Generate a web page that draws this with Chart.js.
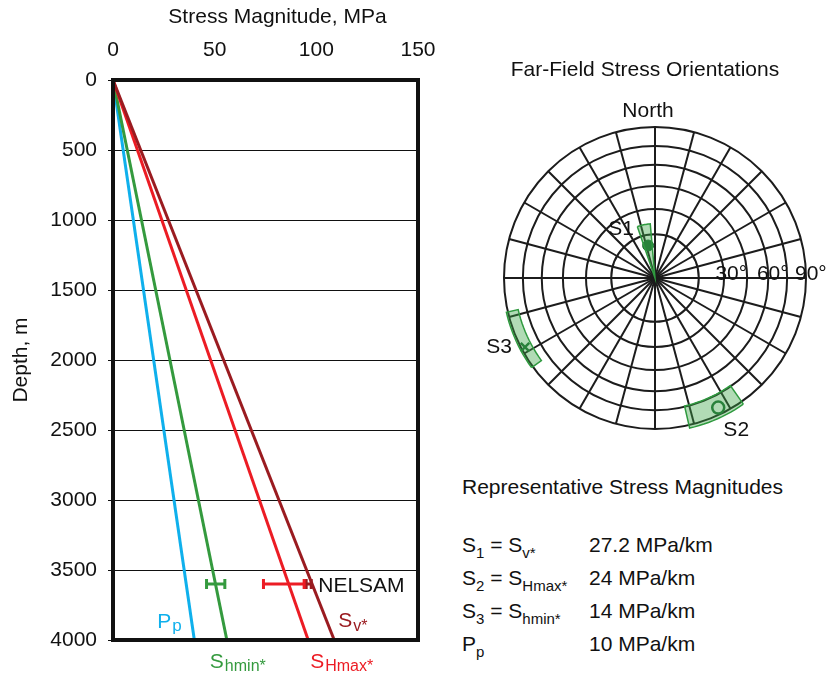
<!DOCTYPE html>
<html>
<head>
<meta charset="utf-8">
<script src="https://cdn.jsdelivr.net/npm/chart.js@4.4.1/dist/chart.umd.min.js"></script>
<style>
  html, body { margin: 0; padding: 0; background: #fff; }
  body { width: 830px; height: 675px; position: relative; overflow: hidden;
         font-family: "Liberation Sans", Arial, sans-serif; color: #111; }
  #profile { position: absolute; left: 0; top: 0; }
  #stereo { position: absolute; left: 440px; top: 0; }
  .mags { position: absolute; left: 462px; top: 473.5px; font-size: 21px; }
  .mags .head { line-height: 25px; height: 25px; margin-bottom: 29.5px; white-space: nowrap; }
  .mags .row { height: 33px; line-height: 33px; white-space: nowrap; }
  .mags .lhs { display: inline-block; width: 127px; }
  .mags sub { font-size: 15px; line-height: 0; vertical-align: -6px; }
</style>
</head>
<body>
<canvas id="profile" width="440" height="675"></canvas>
<canvas id="stereo" width="390" height="460"></canvas>
<div class="mags">
  <div class="head">Representative Stress Magnitudes</div>
  <div class="row"><span class="lhs">S<sub>1</sub> = S<sub>v*</sub></span>27.2 MPa/km</div>
  <div class="row"><span class="lhs">S<sub>2</sub> = S<sub>Hmax*</sub></span>24 MPa/km</div>
  <div class="row"><span class="lhs">S<sub>3</sub> = S<sub>hmin*</sub></span>14 MPa/km</div>
  <div class="row"><span class="lhs">P<sub>p</sub></span>10 MPa/km</div>
</div>
<script>
const FONT = '"Liberation Sans", Arial, sans-serif';

// Stress vs depth profile (MPa at the two ends of each gradient line)
const depthEnds = [0, 4000];
const ppStress = [0, 40];
const shminStress = [0, 56];
const shmaxStress = [0, 96];
const svStress = [0, 108.8];
const stressTicks = [0, 50, 100, 150];

// NELSAM measurements at depth
const nelsamDepth = 3600;
const nelsamShmin = [46, 55];
const nelsamShmax = [74, 94];
const nelsamSv = [95, 97.5];

// Far-field stress orientations (azimuth deg from North, radius as fraction of net)
const axisNames = ['S1', 'S2', 'S3'];
const axisAzimuth = [348, 154, 242];
const axisRadius = [0.22, 0.955, 0.975];
const boxAzimuth = [[341, 355], [145, 167], [234, 257]];
const boxRadius = [[0, 0.36], [0.87, 1.02], [0.93, 1.01]];
const ringRadii = [0.29, 0.457, 0.61, 0.75, 0.875, 1];
const spokeAngles = [0, 15, 30, 45, 60, 75, 90, 105, 120, 135, 150, 165,
                     180, 195, 210, 225, 240, 255, 270, 285, 300, 315, 330, 345];
const ringLabels = ['30°', '60°', '90°'];

const cyan = '#0fb0ec';
const green = '#349a3e';
const red = '#ec1c24';
const darkRed = '#9a1b20';
const netGreen = '#2f9a3f';
const markGreen = '#1d6b34';

function line(xs, ys) {
    return xs.map((v, i) => ({ x: v, y: ys[i] }));
}

function errorBar(range, depth, color) {
    return {
        data: range.map(v => ({ x: v, y: depth })),
        showLine: true,
        borderColor: color,
        borderWidth: 3,
        pointStyle: 'line',
        rotation: 90,
        pointRadius: 5,
        pointBorderWidth: 3,
        pointBorderColor: color
    };
}

function subLabel(ctx, x, y, main, sub, color, subSize, drop) {
    ctx.fillStyle = color;
    ctx.textAlign = 'left';
    ctx.textBaseline = 'alphabetic';
    ctx.font = '21px ' + FONT;
    ctx.fillText(main, x, y);
    const w = ctx.measureText(main).width;
    ctx.font = subSize + 'px ' + FONT;
    ctx.fillText(sub, x + w + 1, y + drop);
}

// box outline + text labels for the depth profile
const profileLabels = {
    id: 'profileLabels',
    afterDraw(chart) {
        const { ctx, chartArea: a, scales: { x, y } } = chart;
        ctx.save();
        ctx.strokeStyle = '#111';
        ctx.lineWidth = 4;
        ctx.strokeRect(a.left, a.top, a.right - a.left, a.bottom - a.top);

        ctx.fillStyle = '#111';
        ctx.font = '21px ' + FONT;
        ctx.textAlign = 'center';
        ctx.textBaseline = 'middle';
        ctx.fillText('Stress Magnitude, MPa', (a.left + a.right) / 2 + 12, 17);

        const yEnd = y.getPixelForValue(depthEnds[1]);
        subLabel(ctx, x.getPixelForValue(ppStress[1]) - 37, yEnd - 12, 'P', 'p', cyan, 17, 3);
        subLabel(ctx, x.getPixelForValue(svStress[1]) + 4, yEnd - 13, 'S', 'v*', darkRed, 16, 4);
        subLabel(ctx, x.getPixelForValue(shminStress[1]) - 17, yEnd + 28, 'S', 'hmin*', green, 16, 3);
        subLabel(ctx, x.getPixelForValue(shmaxStress[1]) + 2, yEnd + 28, 'S', 'Hmax*', red, 16, 3);

        ctx.fillStyle = '#111';
        ctx.font = '21px ' + FONT;
        ctx.textAlign = 'left';
        ctx.textBaseline = 'middle';
        ctx.fillText('NELSAM', x.getPixelForValue(nelsamSv[1]) + 7, y.getPixelForValue(nelsamDepth) + 2);
        ctx.restore();
    }
};

new Chart(document.getElementById('profile'), {
    type: 'scatter',
    data: {
        datasets: [
            { data: line(svStress, depthEnds), borderColor: darkRed },
            { data: line(shmaxStress, depthEnds), borderColor: red },
            { data: line(shminStress, depthEnds), borderColor: green },
            { data: line(ppStress, depthEnds), borderColor: cyan },
            errorBar(nelsamShmin, nelsamDepth, green),
            errorBar(nelsamShmax, nelsamDepth, red),
            errorBar(nelsamSv, nelsamDepth, darkRed)
        ].map((d, i) => i < 4 ? Object.assign({ showLine: true, borderWidth: 3, pointRadius: 0 }, d) : d)
    },
    options: {
        responsive: false,
        animation: false,
        layout: { padding: { left: 0, top: 0, right: 22, bottom: 35 } },
        plugins: { legend: { display: false }, tooltip: { enabled: false } },
        scales: {
            x: {
                type: 'linear',
                position: 'top',
                min: 0,
                max: 150,
                afterBuildTicks: s => { s.ticks = stressTicks.map(v => ({ value: v })); },
                afterFit: s => { s.height = 80; s.paddingLeft = 0; s.paddingRight = 0; },
                grid: { display: false, drawTicks: false },
                border: { display: false },
                ticks: { padding: 17, color: '#111', font: { family: FONT, size: 21 } }
            },
            y: {
                type: 'linear',
                reverse: true,
                min: 0,
                max: 4000,
                afterFit: s => { s.width = 113; },
                grid: { color: '#111', lineWidth: 1, tickLength: 5 },
                border: { display: false },
                ticks: {
                    stepSize: 500,
                    padding: 11,
                    color: '#111',
                    font: { family: FONT, size: 21 },
                    callback: v => String(v)
                },
                title: {
                    display: true,
                    text: 'Depth, m',
                    color: '#111',
                    padding: { top: 9, bottom: 0 },
                    font: { family: FONT, size: 21 }
                }
            }
        }
    },
    plugins: [profileLabels]
});

// ---- stereonet ----
function polar(az, r) {
    const t = az * Math.PI / 180;
    return { x: r * Math.sin(t), y: r * Math.cos(t) };
}

function sectorPoints(az, rr) {
    const pts = [];
    const n = 12;
    for (let i = 0; i <= n; i++) pts.push(polar(az[0] + (az[1] - az[0]) * i / n, rr[1]));
    for (let i = n; i >= 0; i--) pts.push(polar(az[0] + (az[1] - az[0]) * i / n, rr[0]));
    pts.push(pts[0]);
    return pts;
}

const netGrid = {
    id: 'netGrid',
    beforeDatasetsDraw(chart) {
        const { ctx, scales: { x, y } } = chart;
        const cx = x.getPixelForValue(0), cy = y.getPixelForValue(0);
        ctx.save();
        ctx.strokeStyle = '#1c1c1c';
        ctx.lineWidth = 2;
        ringRadii.forEach(r => {
            ctx.beginPath();
            ctx.arc(cx, cy, x.getPixelForValue(r) - cx, 0, Math.PI * 2);
            ctx.stroke();
        });
        spokeAngles.forEach(az => {
            const p = polar(az, 1);
            ctx.beginPath();
            ctx.moveTo(cx, cy);
            ctx.lineTo(x.getPixelForValue(p.x), y.getPixelForValue(p.y));
            ctx.stroke();
        });
        ctx.restore();
    },
    afterDraw(chart) {
        const { ctx, chartArea: a, scales: { x, y } } = chart;
        const cx = x.getPixelForValue(0), cy = y.getPixelForValue(0);
        ctx.save();
        ctx.fillStyle = '#111';
        ctx.font = '21px ' + FONT;
        ctx.textAlign = 'center';
        ctx.textBaseline = 'middle';
        ctx.fillText('Far-Field Stress Orientations', cx - 10, 70);
        ctx.fillText('North', cx - 7, a.top - 16);

        ctx.textAlign = 'left';
        ctx.textBaseline = 'alphabetic';
        [0.40, 0.675, 0.927].forEach((f, i) => {
            ctx.fillText(ringLabels[i], x.getPixelForValue(f), cy + 2);
        });

        const offsets = [[-27, -16], [18, 23], [-26, 0]];
        ctx.textAlign = 'center';
        ctx.textBaseline = 'middle';
        axisNames.forEach((name, i) => {
            const p = polar(axisAzimuth[i], axisRadius[i]);
            ctx.fillText(name, x.getPixelForValue(p.x) + offsets[i][0], y.getPixelForValue(p.y) + offsets[i][1]);
        });
        ctx.restore();
    }
};

const boxSets = boxAzimuth.map((az, i) => ({
    data: sectorPoints(az, boxRadius[i]),
    showLine: true,
    fill: 'shape',
    tension: 0,
    borderColor: netGreen,
    borderWidth: 1.5,
    backgroundColor: 'rgba(60, 165, 70, 0.4)',
    pointRadius: 0,
    clip: false
}));

const markerStyles = [
    { pointStyle: 'circle', pointRadius: 5.5, pointBackgroundColor: markGreen, pointBorderColor: markGreen, pointBorderWidth: 1 },
    { pointStyle: 'circle', pointRadius: 6, pointBackgroundColor: 'rgba(0,0,0,0)', pointBorderColor: markGreen, pointBorderWidth: 2.5 },
    { pointStyle: 'crossRot', pointRadius: 6, pointBorderColor: markGreen, pointBorderWidth: 2.5 }
];

const markerSets = axisNames.map((name, i) => Object.assign({
    label: name,
    data: [polar(axisAzimuth[i], axisRadius[i])],
    clip: false
}, markerStyles[i]));

new Chart(document.getElementById('stereo'), {
    type: 'scatter',
    data: { datasets: boxSets.concat(markerSets) },
    options: {
        responsive: false,
        animation: false,
        layout: { padding: { left: 64, right: 24, top: 127, bottom: 31 } },
        plugins: { legend: { display: false }, tooltip: { enabled: false } },
        scales: {
            x: { type: 'linear', min: -1, max: 1, display: false },
            y: { type: 'linear', min: -1, max: 1, display: false }
        }
    },
    plugins: [netGrid]
});
</script>
</body>
</html>
